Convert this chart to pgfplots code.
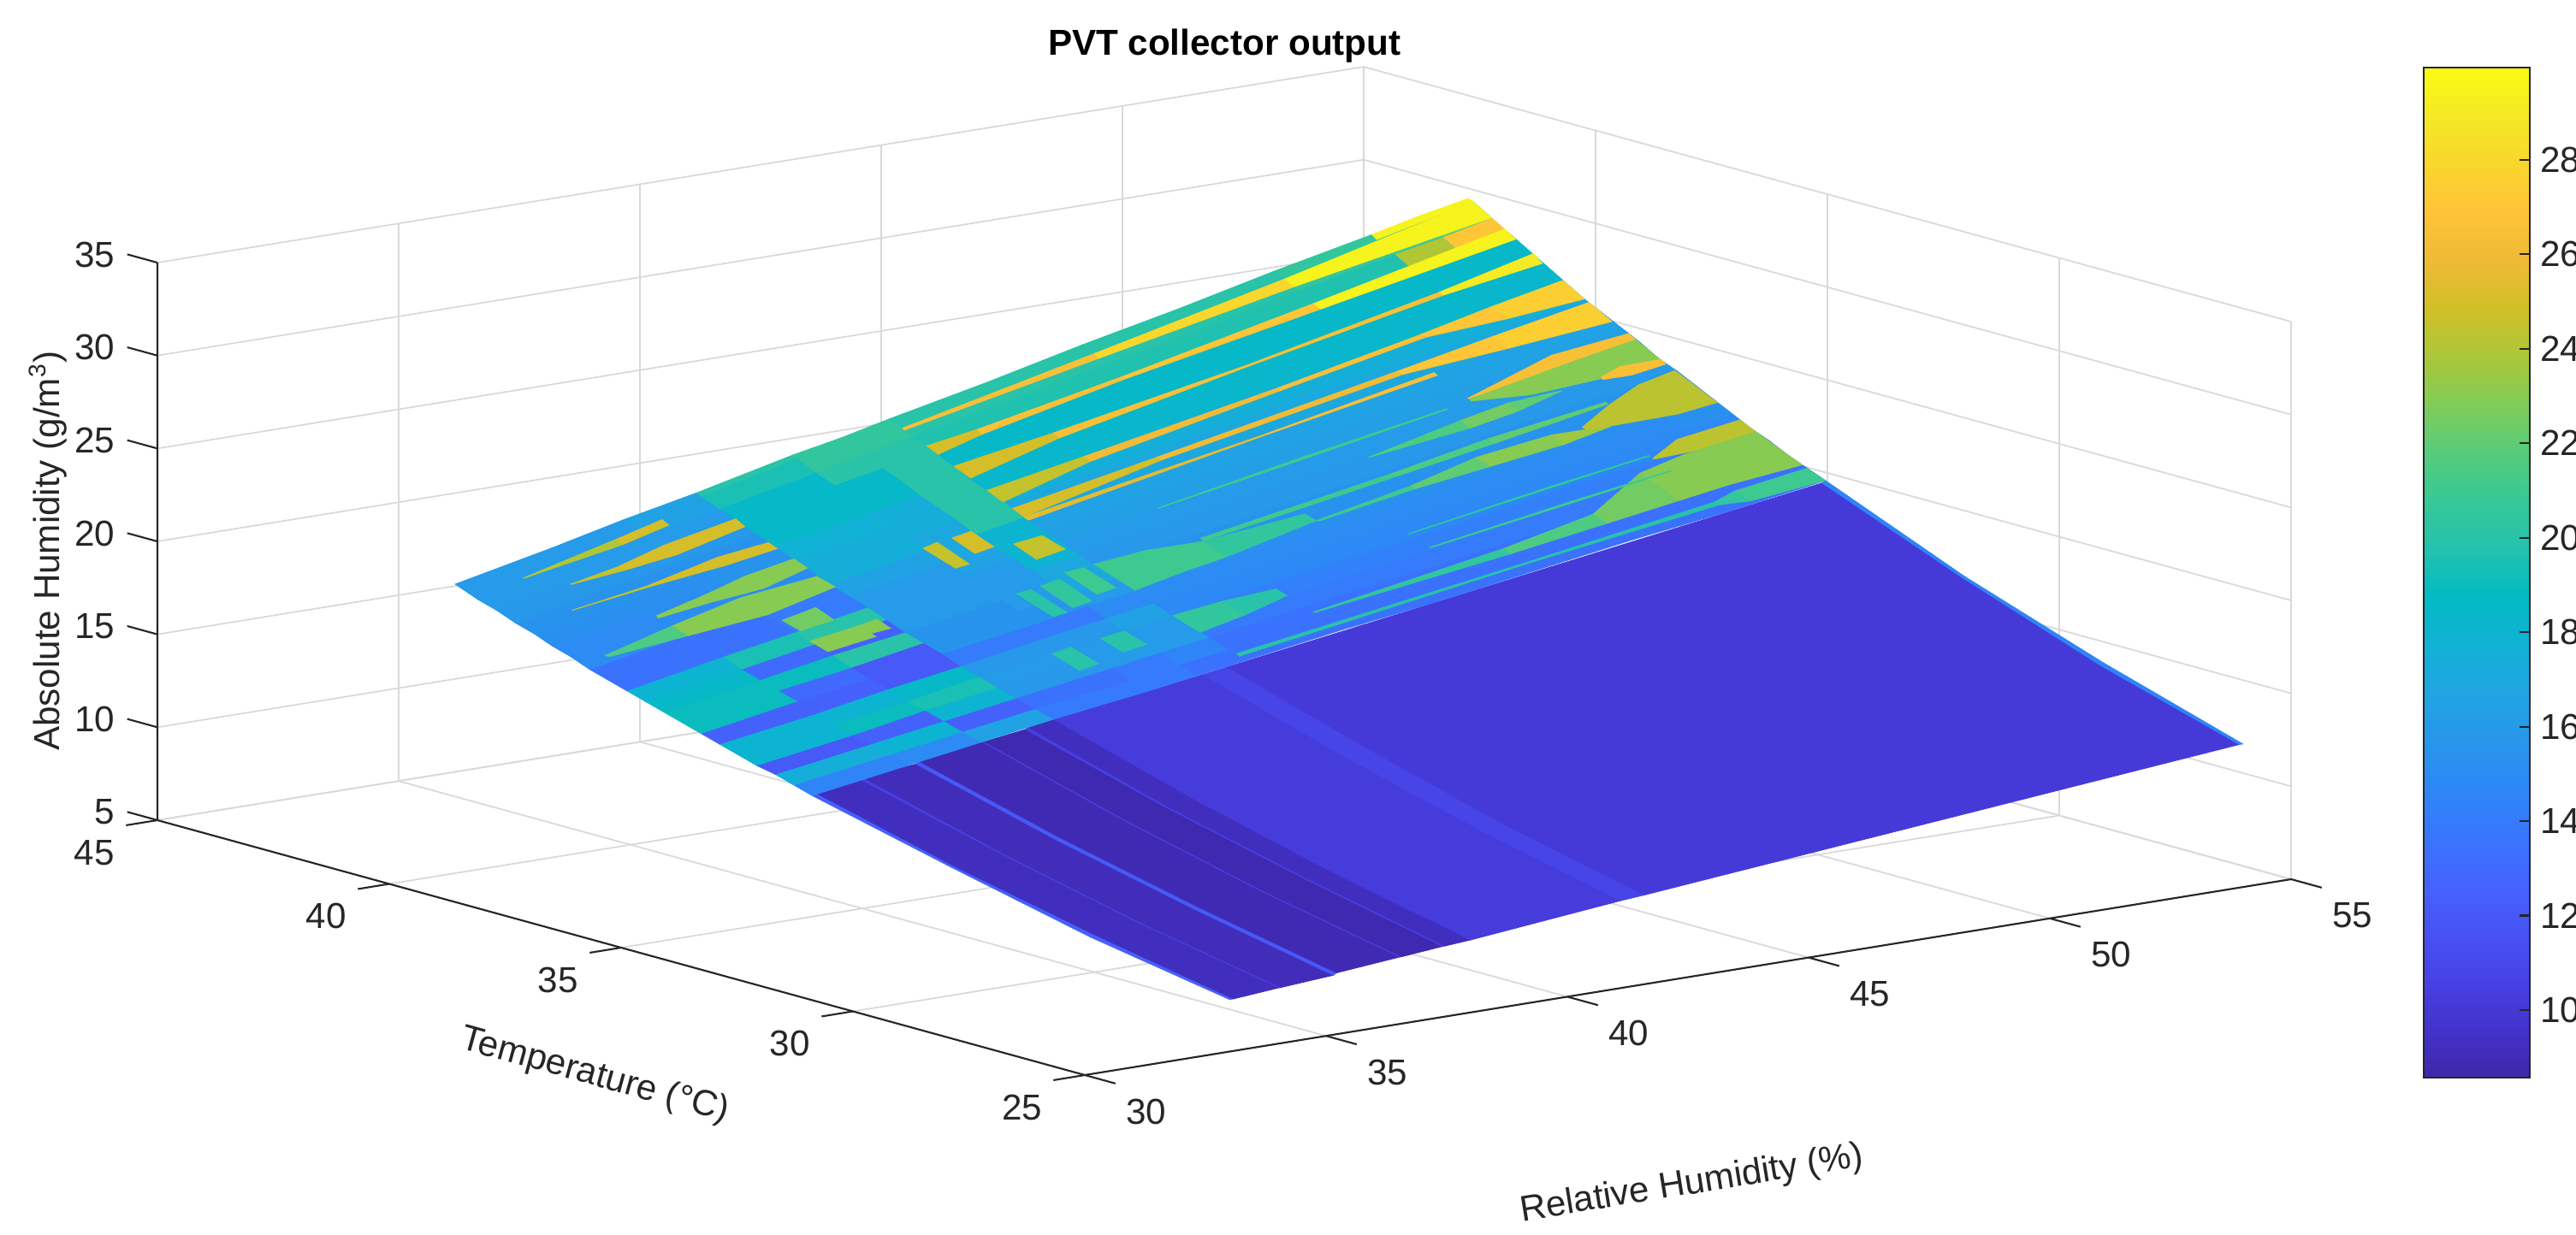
\documentclass[border=0pt]{standalone}
\usepackage{fontspec}
\setmainfont{Liberation Sans}
\usepackage{pgfplots}
\usetikzlibrary{calc}
\pgfplotsset{compat=1.18}
\newcommand{\fs}{\fontsize{12}{14}\selectfont}
\definecolor{txt}{gray}{0.15}
\pgfplotsset{
  colormap={parula}{
    rgb=(0.2422,0.1504,0.6603) rgb=(0.2647,0.1978,0.7952) rgb=(0.2783,0.2559,0.8991)
    rgb=(0.2810,0.3228,0.9579) rgb=(0.2699,0.3892,0.9906) rgb=(0.2206,0.4603,0.9973)
    rgb=(0.1786,0.5289,0.9682) rgb=(0.1540,0.5902,0.9218) rgb=(0.1248,0.6459,0.8883)
    rgb=(0.0689,0.6948,0.8394) rgb=(0.0067,0.7312,0.7660) rgb=(0.1408,0.7584,0.6842)
    rgb=(0.2161,0.7843,0.5923) rgb=(0.3406,0.8008,0.4789) rgb=(0.5044,0.7993,0.3480)
    rgb=(0.6720,0.7793,0.2227) rgb=(0.8203,0.7498,0.1535) rgb=(0.9393,0.7288,0.2099)
    rgb=(0.9970,0.7659,0.2199) rgb=(0.9786,0.8386,0.1766) rgb=(0.9597,0.9135,0.1423)
    rgb=(0.9769,0.9839,0.0805)},
  colormap name=parula,
  rib/.style={surf, shader=flat corner, z buffer=none, mesh/rows=2, mesh/cols=#1, line width=0.1pt, point meta=explicit}
}
\begin{document}
\begin{tikzpicture}
\begin{axis}[
  x={(0.564cm,0.0916cm)}, y={(-0.542cm,0.149cm)}, z={(0cm,0.2173cm)},
  xmin=30, xmax=55, ymin=25, ymax=45, zmin=5, zmax=35,
  xtick={30,35,...,55}, ytick={25,30,...,45}, ztick={5,10,...,35},
  grid=major, grid style={line width=0.5pt, black!15},
  axis line style={draw=none},
  tick align=outside, major tick length=0.36cm,
  tick style={draw=none},
  tick label style={font=\fs, text=txt},
  /pgf/number format/assume math mode=true,
  xticklabel style={anchor=center, xshift=0.37cm, yshift=-0.33cm},
  yticklabel style={anchor=center, xshift=-0.38cm, yshift=-0.32cm},
  zticklabel style={anchor=east, xshift=-0.025cm},
  ztick pos=left,
  xlabel={Relative Humidity (\%)}, ylabel={Temperature (°C)}, zlabel={Absolute Humidity (g/m\textsuperscript{3})},
  xlabel style={at={(rel axis cs:0.109,-0.513,0)}, anchor=center, rotate=9.2, font=\fs, text=txt},
  ylabel style={at={(rel axis cs:-0.257,0.194,0)}, anchor=center, rotate=-15.4, font=\fs, text=txt},
  zlabel style={at={(rel axis cs:-0.0908,1,0.515)}, anchor=center, rotate=0, font=\fs, text=txt},
  title={PVT collector output},
  title style={at={(rel axis cs:0.973,1.115,1)}, anchor=center, yshift=-7pt, font=\fs\bfseries},
  point meta min=8.57, point meta max=29.95,
  clip=false
]
\draw[txt, line width=0.6pt] (axis cs:30,25,5) -- (axis cs:55,25,5);
\draw[txt, line width=0.6pt] (axis cs:30,25,5) -- (axis cs:30,45,5) -- (axis cs:30,45,35);
\pgfplotsinvokeforeach{30,35,40,45,50,55}{\draw[txt, line width=0.6pt] (axis cs:#1,25,5) -- (axis cs:#1,24.34,5);}
\pgfplotsinvokeforeach{25,30,35,40,45}{\draw[txt, line width=0.6pt] (axis cs:30,#1,5) -- (axis cs:29.35,#1,5);}
\pgfplotsinvokeforeach{5,10,15,20,25,30,35}{\draw[txt, line width=0.6pt] (axis cs:30,45,#1) -- (axis cs:30,45.65,#1);}
\coordinate (c0) at (axis cs:30,25,5);
% low temperature part
\addplot3[surf, shader=flat corner, z buffer=none, mesh/rows=4, mesh/cols=15, line width=0.2pt, point meta=explicit]
  table[x=r, y=t, z=a, meta=c] {
r t a c
33 25 7.8 12.5
33.08 25 7.8 9.2
34.03 25 8.0 10.5
34.07 25 8.0 9.1
35.15 25 8.2 12
35.22 25 8.3 8.9
36.53 25 8.6 10.5
36.57 25 8.6 8.8
37.42 25 8.8 10.5
37.47 25 8.8 9.2
38 25 8.9 10.2
41.1 25 9.7 10.8
41.6 25 9.8 10.1
53.93 25 12.7 14.5
54 25 12.7 14.5
33 28 9.1 12.5
33.08 28 9.2 9.2
34.03 28 9.4 10.5
34.07 28 9.4 9.1
35.15 28 9.7 12
35.22 28 9.8 8.9
36.53 28 10.1 10.5
36.57 28 10.1 8.8
37.42 28 10.4 10.5
37.47 28 10.4 9.2
38 28 10.5 10.2
41.1 28 11.4 10.8
41.6 28 11.5 10.1
53.93 28 14.9 14.5
54 28 15.0 14.5
33 31 10.8 12.5
33.08 31 10.8 9.2
34.03 31 11.1 10.5
34.07 31 11.1 9.1
35.15 31 11.4 12
35.22 31 11.5 8.9
36.53 31 11.9 10.5
36.57 31 11.9 8.8
37.42 31 12.2 10.5
37.47 31 12.2 9.2
38 31 12.4 10.2
41.1 31 13.4 10.8
41.6 31 13.6 10.1
53.93 31 17.6 14.5
54 31 17.6 14.5
33 34 12.6 12.5
33.08 34 12.7 9.2
34.03 34 13.0 10.5
34.07 34 13.1 9.1
35.15 34 13.4 12
35.22 34 13.5 8.9
36.53 34 14.0 10.5
36.57 34 14.0 8.8
37.42 34 14.3 10.5
37.47 34 14.4 9.2
38 34 14.6 10.2
41.1 34 15.7 10.8
41.6 34 15.9 10.1
53.93 34 20.6 14.5
54 34 20.7 14.5
};
% high temperature part, broad bands of constant temperature
\addplot3[surf, shader=flat corner, z buffer=none, mesh/rows=21, mesh/cols=14, line width=0.2pt, point meta=explicit]
  table[x=r, y=t, z=a, meta=c] {
r t a c
33 34.0 12.6 14.5
35 34.0 13.4 15
36.5 34.0 14.0 16.5
38 34.0 14.6 14
40 34.0 15.3 14
41 34.0 15.7 13.5
42 34.0 16.1 13.5
44 34.0 16.9 13.5
46 34.0 17.6 13.5
48 34.0 18.4 13.5
50 34.0 19.2 13.5
52 34.0 19.9 13.5
53 34.0 20.3 13.5
54 34.0 20.7 13.5
33 34.4 12.9 17.5
35 34.4 13.7 18
36.5 34.4 14.3 12.5
38 34.4 14.9 13.5
40 34.4 15.6 14
41 34.4 16.0 14.5
42 34.4 16.4 13.5
44 34.4 17.2 13.5
46 34.4 18.0 13.5
48 34.4 18.8 13.5
50 34.4 19.6 13.5
52 34.4 20.3 13.5
53 34.4 20.7 13.5
54 34.4 21.1 13.5
33 34.8 13.2 12
35 34.8 14.0 12.5
36.5 34.8 14.6 18
38 34.8 15.2 15.8
40 34.8 16.0 16
41 34.8 16.4 16
42 34.8 16.8 14
44 34.8 17.6 14
46 34.8 18.4 14
48 34.8 19.2 14
50 34.8 20.0 14
52 34.8 20.7 14
53 34.8 21.1 14
54 34.8 21.5 14
33 35.2 13.4 18
35 35.2 14.2 19
36.5 35.2 14.9 19.5
38 35.2 15.5 16
40 35.2 16.3 16
41 35.2 16.7 16
42 35.2 17.1 14.3
44 35.2 17.9 14.3
46 35.2 18.7 14.3
48 35.2 19.5 14.3
50 35.2 20.4 14.3
52 35.2 21.2 14.3
53 35.2 21.6 14.3
54 35.2 22.0 14.3
33 35.6 13.7 18
35 35.6 14.5 18
36.5 35.6 15.1 18.5
38 35.6 15.8 15.8
40 35.6 16.6 15.8
41 35.6 17.0 16.5
42 35.6 17.4 14.8
44 35.6 18.3 14.8
46 35.6 19.1 14.8
48 35.6 19.9 14.8
50 35.6 20.8 14.8
52 35.6 21.6 14.8
53 35.6 22.0 14.8
54 35.6 22.4 14.8
33 36.0 14.0 12.5
35 36.0 14.8 12.5
36.5 36.0 15.5 12
38 36.0 16.1 14
40 36.0 17.0 14
41 36.0 17.4 15
42 36.0 17.8 15
44 36.0 18.7 15
46 36.0 19.5 15
48 36.0 20.4 15
50 36.0 21.2 15
52 36.0 22.0 15
53 36.0 22.5 15.3
54 36.0 22.9 15.5
33 36.4 14.3 19
35 36.4 15.2 13
36.5 36.4 15.8 12
38 36.4 16.5 15.5
40 36.4 17.3 15.5
41 36.4 17.8 16
42 36.4 18.2 15.3
44 36.4 19.1 15.3
46 36.4 19.9 15.3
48 36.4 20.8 15.3
50 36.4 21.7 15.3
52 36.4 22.5 15.3
53 36.4 22.9 15.3
54 36.4 23.4 15.3
33 36.8 14.6 19
35 36.8 15.5 19
36.5 36.8 16.1 20
38 36.8 16.8 15.5
40 36.8 17.7 16
41 36.8 18.1 17
42 36.8 18.6 15.5
44 36.8 19.4 15.5
46 36.8 20.3 15.5
48 36.8 21.2 15.5
50 36.8 22.1 15.5
52 36.8 23.0 15.5
53 36.8 23.4 15.5
54 36.8 23.9 15.5
33 37.2 14.9 18.5
35 37.2 15.8 13
36.5 37.2 16.5 12.5
38 37.2 17.1 16
40 37.2 18.0 16
41 37.2 18.5 17
42 37.2 18.9 15.8
44 37.2 19.8 15.8
46 37.2 20.7 15.8
48 37.2 21.6 15.8
50 37.2 22.6 15.8
52 37.2 23.5 15.8
53 37.2 23.9 15.8
54 37.2 24.4 15.8
33 37.6 15.2 18
35 37.6 16.1 19.5
36.5 37.6 16.8 20
38 37.6 17.5 16
40 37.6 18.4 16
41 37.6 18.9 18
42 37.6 19.3 16
44 37.6 20.2 16
46 37.6 21.2 16
48 37.6 22.1 16
50 37.6 23.0 16
52 37.6 23.9 16
53 37.6 24.4 16
54 37.6 24.8 16
33 38.0 15.5 13.5
35 38.0 16.5 13.5
36.5 38.0 17.2 14
38 38.0 17.9 16
40 38.0 18.8 16.5
41 38.0 19.3 18
42 38.0 19.7 16.3
44 38.0 20.7 16.3
46 38.0 21.6 16.3
48 38.0 22.6 16.3
50 38.0 23.5 16.3
52 38.0 24.4 16.3
53 38.0 24.9 16.3
54 38.0 25.4 16.3
33 38.4 15.8 13.5
35 38.4 16.8 13.5
36.5 38.4 17.5 14
38 38.4 18.2 16.5
40 38.4 19.2 17
41 38.4 19.6 18
42 38.4 20.1 16.5
44 38.4 21.1 16.5
46 38.4 22.0 16.5
48 38.4 23.0 16.5
50 38.4 24.0 16.5
52 38.4 24.9 16.5
53 38.4 25.4 16.5
54 38.4 25.9 16.5
33 38.8 16.1 15
35 38.8 17.1 15
36.5 38.8 17.8 15
38 38.8 18.6 17.5
40 38.8 19.6 17
41 38.8 20.0 20
42 38.8 20.5 17
44 38.8 21.5 17
46 38.8 22.5 17
48 38.8 23.5 17
50 38.8 24.5 17
52 38.8 25.4 17
53 38.8 25.9 17
54 38.8 26.4 17
33 39.2 16.5 15
35 39.2 17.5 15
36.5 39.2 18.2 15
38 39.2 19.0 17.5
40 39.2 20.0 17.5
41 39.2 20.5 20
42 39.2 21.0 17.5
44 39.2 22.0 17.5
46 39.2 23.0 17.5
48 39.2 24.0 17.5
50 39.2 25.0 17.5
52 39.2 25.9 17.5
53 39.2 26.4 17.5
54 39.2 26.9 17.5
33 39.6 16.8 15.3
35 39.6 17.9 15.3
36.5 39.6 18.6 15.5
38 39.6 19.4 17.8
40 39.6 20.4 17.5
41 39.6 20.9 20
42 39.6 21.4 18.3
44 39.6 22.4 18.3
46 39.6 23.5 18.3
48 39.6 24.5 18.3
50 39.6 25.5 18.3
52 39.6 26.5 18.3
53 39.6 27.0 18.3
54 39.6 27.5 18.3
33 40.0 17.2 15.5
35 40.0 18.2 15.5
36.5 40.0 19.0 15.5
38 40.0 19.8 18.5
40 40.0 20.8 18.5
41 40.0 21.3 20
42 40.0 21.8 18.4
44 40.0 22.9 18.4
46 40.0 23.9 18.4
48 40.0 25.0 18.4
50 40.0 26.0 18.4
52 40.0 27.0 18.4
53 40.0 27.6 18.4
54 40.0 28.1 18.4
33 40.4 17.5 15.8
35 40.4 18.6 15.8
36.5 40.4 19.4 15.8
38 40.4 20.2 18.5
40 40.4 21.2 18.5
41 40.4 21.8 20
42 40.4 22.3 18.5
44 40.4 23.4 18.5
46 40.4 24.4 18.5
48 40.4 25.5 18.5
50 40.4 26.6 18.5
52 40.4 27.6 18.5
53 40.4 28.1 18.5
54 40.4 28.7 18.5
33 40.8 17.9 16
35 40.8 19.0 16
36.5 40.8 19.8 16
38 40.8 20.6 18.5
40 40.8 21.7 20
41 40.8 22.2 20
42 40.8 22.8 19.7
44 40.8 23.8 19.7
46 40.8 24.9 19.7
48 40.8 26.0 19.7
50 40.8 27.1 19.7
52 40.8 28.2 24
53 40.8 28.7 27
54 40.8 29.3 27
33 41.2 18.2 16
35 41.2 19.4 16
36.5 41.2 20.2 16.5
38 41.2 21.0 19.5
40 41.2 22.1 20.5
41 41.2 22.7 20.5
42 41.2 23.2 20
44 41.2 24.3 20
46 41.2 25.4 20
48 41.2 26.5 20
50 41.2 27.7 20.5
52 41.2 28.8 21
53 41.2 29.3 22
54 41.2 29.9 22
33 41.6 18.6 16
35 41.6 19.7 16
36.5 41.6 20.6 16.5
38 41.6 21.4 20
40 41.6 22.6 20.5
41 41.6 23.1 20.5
42 41.6 23.7 20
44 41.6 24.8 20
46 41.6 25.9 20
48 41.6 27.1 20
50 41.6 28.2 20.5
52 41.6 29.3 29.5
53 41.6 29.9 29.5
54 41.6 30.5 29.5
33 41.7 18.7 16
35 41.7 19.8 16
36.5 41.7 20.7 16.5
38 41.7 21.5 20
40 41.7 22.7 20.5
41 41.7 23.2 20.5
42 41.7 23.8 20
44 41.7 24.9 20
46 41.7 26.1 20
48 41.7 27.2 20
50 41.7 28.4 20.5
52 41.7 29.5 29.5
53 41.7 30.1 29.5
54 41.7 30.6 29.5
};
% streaks and wedges at high relative humidity
\addplot3[rib=4] coordinates {(42,41.38,23.4)[26.5] (46,41.35,25.6)[28] (50,41.3,27.8)[29.5] (54,41.2,29.9)[29.5]
  (42,41.42,23.5)[26.5] (46,41.45,25.8)[28] (50,41.5,28.1)[29.5] (54,41.6,30.5)[29.5]};
\addplot3[rib=5] coordinates {(42,40.65,22.6)[25] (43,40.74,23.2)[26.5] (46,40.77,24.9)[27] (50,40.72,27.0)[29.5] (54,40.68,29.1)[29.5]
  (42,40.9,22.9)[25] (43,40.85,23.4)[26.5] (46,40.83,25.0)[27] (50,40.88,27.2)[29.5] (54,40.92,29.5)[29.5]};
\addplot3[rib=5] coordinates {(42,39.95,21.8)[25] (44,40.12,23.0)[26.5] (48,40.15,25.2)[26.5] (52,40.15,27.3)[29] (54,40.1,28.2)[29]
  (42,40.32,22.2)[25] (44,40.25,23.2)[26.5] (48,40.22,25.2)[26.5] (52,40.25,27.4)[29] (54,40.3,28.6)[29]};
\addplot3[rib=6] coordinates {(42,39.25,21.0)[24.5] (44,39.45,22.2)[26] (48,39.5,24.3)[26.5] (51,39.5,25.9)[27] (52.5,39.3,26.4)[27.5] (54,39.2,26.9)[27.5]
  (42,39.6,21.4)[24.5] (44,39.58,22.4)[26] (48,39.57,24.4)[26.5] (51,39.6,26.0)[27] (52.5,39.66,26.8)[27.5] (54,39.66,27.6)[27.5]};
\addplot3[rib=5] coordinates {(42,38.8,20.5)[25] (45,38.95,22.2)[26] (50,38.95,24.7)[27] (52,38.75,25.4)[27.5] (54,38.6,26.1)[27.5]
  (42,39.05,20.8)[25] (45,39.05,22.3)[26] (50,39.07,24.8)[27] (52,39.1,25.8)[27.5] (54,39.1,26.8)[27.5]};
\addplot3[rib=3] coordinates {(42,38.7,20.4)[25.5] (47,38.73,22.9)[26.5] (50.5,38.72,24.6)[26.5]
  (42,38.8,20.5)[25.5] (47,38.78,22.9)[26.5] (50.5,38.8,24.7)[26.5]};
\addplot3[rib=3] coordinates {(44,37.97,20.7)[21] (47,37.95,22.1)[21] (50,37.97,23.5)[21]
  (44,38.0,20.7)[21] (47,38.05,22.1)[21] (50,38.02,23.5)[21]};
\addplot3[rib=4] coordinates {(50.5,38,23.7)[23] (51.5,37.75,23.8)[23] (53,37.55,24.3)[23] (54,37.5,24.7)[23]
  (50.5,38.03,23.8)[23] (51.5,38.1,24.3)[23] (53,38.1,25.0)[23] (54,38.1,25.5)[23]};
\addplot3[rib=3] coordinates {(50.5,38.05,23.8)[26.5] (52.5,38.08,24.8)[26.5] (54,38.1,25.5)[26.5]
  (50.5,38.08,23.8)[26.5] (52.5,38.35,25.1)[26.5] (54,38.25,25.7)[26.5]};
\addplot3[rib=3] coordinates {(52.8,37.55,24.2)[26.5] (53.3,37.45,24.3)[26.5] (54,37.44,24.6)[26.5]
  (52.8,37.6,24.3)[26.5] (53.3,37.7,24.6)[26.5] (54,37.55,24.8)[26.5]};
\addplot3[rib=4] coordinates {(48,37.6,22.0)[21.5] (50,37.5,22.8)[22.5] (51,37.5,23.3)[22] (52,37.6,23.9)[22]
  (48,37.62,22.0)[21.5] (50,37.7,23.1)[22.5] (51,37.72,23.6)[22] (52,37.62,23.9)[22]};
\addplot3[rib=4] coordinates {(44,37,19.6)[21] (48,37,21.4)[21.5] (50,37,22.3)[22] (52.4,37.03,23.4)[22]
  (44,37.08,19.7)[21] (48,37.1,21.5)[21.5] (50,37.12,22.5)[22] (52.4,37.07,23.5)[22]};
\addplot3[rib=5] coordinates {(46,36.6,20.1)[21] (48,36.6,21.0)[22] (49.5,36.55,21.6)[23] (51,36.5,22.2)[23.5] (52,36.55,22.7)[23.5]
  (46,36.66,20.1)[21] (48,36.7,21.1)[22] (49.5,36.85,21.9)[23] (51,36.8,22.5)[23.5] (52,36.6,22.7)[23.5]};
\addplot3[rib=4] coordinates {(51.6,36.65,22.6)[24.3] (52.4,36.5,22.8)[24.3] (53.2,36.35,23.0)[24.3] (54,36.33,23.3)[24.3]
  (51.6,36.75,22.7)[24.3] (52.4,37.0,23.4)[24.3] (53.2,37.2,24.0)[24.3] (54,37.25,24.4)[24.3]};
\addplot3[rib=4] coordinates {(42,36.4,18.2)[21] (43,36.45,18.7)[21] (44,36.5,19.1)[20.5] (46,36.65,20.1)[20.5]
  (42,37.3,19.0)[21] (43,37.2,19.4)[21] (44,37,19.6)[20.5] (46,36.9,20.3)[20.5]};
\addplot3[rib=3] coordinates {(42,35,16.9)[20.5] (43,35.05,17.4)[20] (44,35.2,17.9)[20]
  (42,35.6,17.4)[20.5] (43,35.55,17.8)[20] (44,35.45,18.1)[20]};
\addplot3[rib=3] coordinates {(52,35.6,21.6)[24.3] (52.7,35.5,21.8)[24.3] (54,35.5,22.3)[24.3]
  (52,35.65,21.6)[24.3] (52.7,35.85,22.2)[24.3] (54,35.85,22.7)[24.3]};
\addplot3[rib=4] coordinates {(50,34.55,19.7)[22.5] (51.5,34.55,20.3)[23] (52.5,34.55,20.7)[23] (54,34.5,21.2)[23]
  (50,34.85,20.0)[22.5] (51.5,35.4,21.2)[23] (52.5,35.5,21.7)[23] (54,35.5,22.3)[23]};
\addplot3[rib=3] coordinates {(44,34.6,17.4)[20.5] (48,34.55,18.9)[21.5] (50,34.55,19.7)[21.5]
  (44,34.65,17.4)[20.5] (48,34.7,19.1)[21.5] (50,34.85,20.0)[21.5]};
\addplot3[rib=5] coordinates {(42,34.15,16.2)[20] (48,34.2,18.6)[20] (52,34.2,20.1)[20.5] (52.5,34.05,20.2)[21] (54,34.0,20.7)[21]
  (42,34.22,16.3)[20] (48,34.27,18.6)[20] (52,34.3,20.2)[20.5] (52.5,34.4,20.5)[21] (54,34.4,21.1)[21]};
\addplot3[rib=3] coordinates {(47,35.7,19.6)[20.5] (50,35.68,20.9)[20.5] (52,35.7,21.7)[20.5]
  (47,35.73,19.6)[20.5] (50,35.75,20.9)[20.5] (52,35.74,21.7)[20.5]};
\addplot3[rib=3] coordinates {(47,35.22,19.2)[21] (50,35.22,20.4)[21] (52,35.24,21.2)[21]
  (47,35.26,19.2)[21] (50,35.3,20.4)[21] (52,35.28,21.2)[21]};
% streaks at low relative humidity
\addplot3[rib=3] coordinates {(34,41.25,18.9)[24] (36,41.2,19.9)[25] (37,41.25,20.5)[25]
  (34,41.28,18.9)[24] (36,41.35,20.1)[25] (37,41.4,20.7)[25]};
\addplot3[rib=4] coordinates {(34.5,40.75,18.7)[24.5] (35.5,40.65,19.1)[25] (36.5,40.55,19.6)[25] (38,40.65,20.4)[25]
  (34.5,40.78,18.7)[24.5] (35.5,40.8,19.2)[25] (36.5,40.85,19.9)[25] (38,40.85,20.7)[25]};
\addplot3[rib=4] coordinates {(34,40.2,17.9)[24.5] (35.5,40.1,18.6)[25] (37,40.0,19.2)[25] (38,39.95,19.7)[25]
  (34,40.22,17.9)[24.5] (35.5,40.17,18.6)[25] (37,40.2,19.5)[25] (38,40.15,19.9)[25]};
\addplot3[rib=4] coordinates {(35,39.4,17.6)[23] (36,39.3,18.1)[23] (37,39.2,18.5)[23] (38,39.3,19.1)[23]
  (35,39.45,17.7)[23] (36,39.5,18.3)[23] (37,39.6,18.9)[23] (38,39.6,19.4)[23]};
\addplot3[rib=4] coordinates {(33.5,38.9,16.5)[21.5] (35,38.75,17.1)[23] (36.5,38.6,17.7)[23] (38,38.7,18.5)[23]
  (33.5,39,16.5)[21.5] (35,39.1,17.4)[23] (36.5,39.2,18.2)[23] (38,39.1,18.8)[23]};
\addplot3[rib=2] coordinates {(36.5,37.3,16.6)[23] (37.5,37.3,17.0)[23] (36.5,37.7,16.9)[23] (37.5,37.7,17.3)[23]};
\addplot3[rib=2] coordinates {(36.6,38,17.2)[22.5] (37.3,38,17.5)[22.5] (36.6,38.4,17.5)[22.5] (37.3,38.4,17.9)[22.5]};
\addplot3[rib=2] coordinates {(37.5,37.4,17.1)[23] (37.9,37.4,17.2)[23] (37.5,37.7,17.3)[23] (37.9,37.7,17.5)[23]};
% bars along the temperature axis at mid relative humidity
\addplot3[rib=2] coordinates {(40.3,36.4,17.5)[20] (40.6,36.4,17.6)[20] (40.3,37.2,18.2)[20] (40.6,37.2,18.3)[20]};
\addplot3[rib=2] coordinates {(40.8,36.5,17.7)[20.5] (41.2,36.5,17.9)[20.5] (40.8,37.2,18.4)[20.5] (41.2,37.2,18.6)[20.5]};
\addplot3[rib=2] coordinates {(41.4,36.6,18.1)[21] (41.8,36.6,18.3)[21] (41.4,37.3,18.8)[21] (41.8,37.3,18.9)[21]};
\addplot3[rib=2] coordinates {(40,38.2,19.0)[24.5] (40.3,38.2,19.1)[24.5] (40,38.9,19.6)[24.5] (40.3,38.9,19.8)[24.5]};
\addplot3[rib=2] coordinates {(40.6,38.4,19.4)[25] (41,38.4,19.6)[25] (40.6,38.9,19.9)[25] (41,38.9,20.1)[25]};
\addplot3[rib=2] coordinates {(41.3,37.8,19.2)[24.5] (41.9,37.8,19.5)[24.5] (41.3,38.3,19.7)[24.5] (41.9,38.3,19.9)[24.5]};
\addplot3[rib=2] coordinates {(39.5,35,15.9)[20] (39.9,35,16.1)[20] (39.5,35.6,16.4)[20] (39.9,35.6,16.6)[20]};
\addplot3[rib=2] coordinates {(40.5,35.1,16.4)[20] (41,35.1,16.6)[20] (40.5,35.6,16.8)[20] (41,35.6,17.0)[20]};
\end{axis}
% colour bar
\begin{axis}[
  at={($(c0)+(15.35cm,-0.03cm)$)}, anchor=south west,
  scale only axis, width=1.24cm, height=11.81cm, hide axis,
  point meta min=8.57, point meta max=29.95,
  colorbar, colorbar/width=1.24cm,
  colorbar style={
    at={(parent axis.south west)}, anchor=south west,
    height=11.81cm,
    ytick={10,12,...,28},
    tick align=inside, major tick length=0.12cm,
    ytick pos=right, yticklabel pos=right,
    tick style={txt, line width=0.6pt},
    axis line style={txt, line width=0.7pt},
    yticklabel style={font=\fs, text=txt},
    /pgf/number format/assume math mode=true
  }
]
\addplot[draw=none] coordinates {(0,0)};
\end{axis}
\pgfresetboundingbox
\path[use as bounding box] ($(c0)+(-12.68cm,-1.86cm)$) rectangle ($(c0)+(17.43cm,12.57cm)$);
\end{tikzpicture}
\end{document}
